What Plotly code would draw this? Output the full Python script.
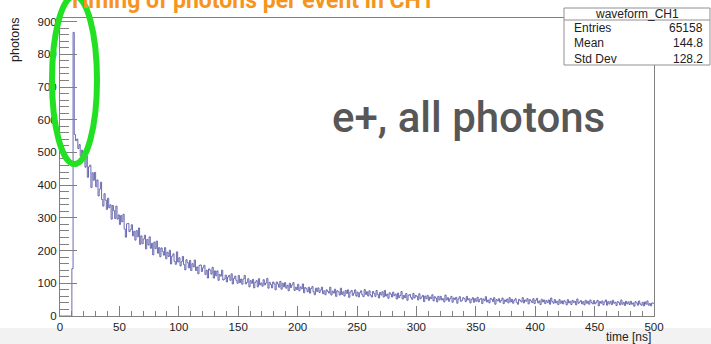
import numpy as np
import plotly.graph_objects as go

# ---------------- data ----------------
bin_width_ns = 1.0
counts = [
    0, 0, 0, 0, 0, 0, 0, 0, 0, 0,
    145, 867, 555, 536, 541, 512, 524, 489, 507, 495,
    486, 455, 489, 424, 456, 461, 393, 438, 415, 439,
    395, 416, 367, 388, 409, 356, 336, 374, 354, 326,
    360, 331, 340, 296, 338, 322, 298, 336, 296, 309,
    280, 307, 288, 311, 266, 241, 282, 283, 258, 264,
    279, 245, 259, 232, 261, 242, 269, 219, 245, 221,
    235, 247, 205, 234, 217, 242, 207, 222, 187, 226,
    206, 229, 192, 209, 181, 208, 197, 186, 209, 175,
    195, 182, 201, 159, 183, 190, 167, 158, 196, 165,
    178, 153, 166, 182, 157, 141, 172, 163, 147, 170,
    139, 160, 150, 171, 139, 150, 129, 155, 156, 136,
    147, 155, 127, 140, 116, 144, 140, 128, 149, 116,
    138, 123, 138, 109, 127, 122, 140, 110, 113, 125,
    104, 119, 124, 109, 129, 98, 115, 122, 109, 100,
    124, 102, 113, 97, 113, 124, 98, 103, 114, 89,
    108, 100, 112, 86, 103, 108, 89, 114, 95, 101,
    91, 111, 95, 101, 115, 85, 103, 96, 86, 104,
    98, 80, 104, 98, 88, 106, 82, 100, 89, 102,
    85, 94, 77, 100, 87, 95, 102, 78, 88, 81,
    97, 77, 89, 83, 98, 71, 87, 83, 74, 88,
    70, 84, 90, 74, 65, 85, 75, 86, 72, 79,
    88, 68, 77, 65, 80, 75, 70, 88, 64, 76,
    70, 82, 60, 77, 74, 64, 85, 66, 74, 61,
    78, 69, 80, 57, 73, 78, 63, 70, 80, 61,
    73, 58, 71, 77, 65, 59, 81, 66, 74, 61,
    77, 64, 58, 75, 69, 60, 78, 66, 55, 72,
    64, 74, 58, 78, 61, 67, 54, 71, 67, 58,
    73, 62, 67, 52, 70, 56, 63, 75, 52, 63,
    56, 69, 48, 63, 66, 57, 51, 69, 55, 63,
    60, 49, 68, 53, 58, 63, 44, 61, 53, 63,
    48, 58, 53, 65, 46, 59, 55, 43, 60, 49,
    60, 49, 53, 43, 64, 49, 56, 45, 53, 60,
    42, 55, 50, 57, 39, 52, 59, 45, 48, 56,
    53, 44, 60, 49, 53, 40, 50, 56, 42, 53,
    45, 57, 43, 51, 54, 38, 52, 47, 59, 43,
    49, 40, 54, 51, 44, 56, 36, 50, 46, 53,
    42, 48, 55, 38, 49, 44, 52, 40, 56, 43,
    51, 39, 48, 53, 42, 36, 51, 47, 43, 56,
    40, 49, 45, 53, 37, 50, 46, 41, 53, 38,
    48, 54, 40, 46, 35, 51, 43, 49, 38, 47,
    41, 49, 36, 55, 44, 39, 50, 40, 45, 35,
    50, 39, 46, 37, 47, 43, 34, 50, 40, 45,
    35, 48, 41, 45, 34, 52, 39, 43, 47, 37,
    44, 34, 48, 39, 45, 36, 49, 41, 37, 47,
    37, 42, 48, 31, 44, 39, 46, 34, 43, 49,
    33, 44, 37, 45, 35, 48, 39, 42, 32, 44,
    41, 34, 49, 36, 42, 32, 45, 37, 43, 35,
    45, 36, 40, 30, 44, 40, 33, 46, 37, 33,
    42, 31, 43, 36, 46, 33, 38, 31, 40, 39,
]
x_tick_vals = [0, 50, 100, 150, 200, 250, 300, 350, 400, 450, 500]
y_tick_vals = [0, 100, 200, 300, 400, 500, 600, 700, 800, 900]
stats_name = "waveform_CH1"
stats_labels = ["Entries", "Mean", "Std Dev"]
stats_values = ["65158", "144.8", "128.2"]
title_text = "Timing of photons per event in CH1"
label_text = "e+, all photons"
x_title = "time [ns]"
y_title = "photons"

# ---------------- geometry ----------------
W, H = 711, 344
L, R, T, B = 60, 654, 18, 316
PW, PH = R - L, B - T

def px(xp):
    return (xp - L) / PW

def py(yp):
    return (B - yp) / PH

edges = np.arange(len(counts) + 1) * bin_width_ns
ys = list(counts) + [counts[-1]]

fig = go.Figure()
fig.add_trace(go.Scatter(
    x=edges, y=ys, mode="lines",
    line=dict(shape="hv", color="#5a5aa8", width=0.9),
    hoverinfo="skip", showlegend=False,
))

axis_font = dict(family="Liberation Sans, Arial, sans-serif", size=11.5, color="#222222")
fig.update_xaxes(
    range=[0, 500], tickvals=x_tick_vals, ticks="inside", ticklen=10,
    tickcolor="#808080", showline=True, linecolor="#808080", linewidth=1,
    mirror=True, showgrid=False, zeroline=False, tickfont=axis_font,
    minor=dict(ticks="inside", ticklen=5, dtick=10, tickcolor="#808080", showgrid=False),
)
fig.update_yaxes(
    range=[0, 911], tickvals=y_tick_vals, ticks="inside", ticklen=17,
    tickcolor="#808080", showline=True, linecolor="#808080", linewidth=1,
    mirror=True, showgrid=False, zeroline=False, tickfont=axis_font,
    minor=dict(ticks="inside", ticklen=9, dtick=20, tickcolor="#808080", showgrid=False),
)

shapes = [
    # light gray band at the bottom of the picture
    dict(type="rect", xref="paper", yref="paper", x0=px(0), x1=px(W), y0=py(H), y1=py(328),
         fillcolor="#f2f2f2", line=dict(width=0), layer="below"),
    # green ellipse
    dict(type="circle", xref="paper", yref="paper", x0=px(52), x1=px(97), y0=py(164), y1=py(-4),
         line=dict(color="#22e022", width=6), fillcolor="rgba(0,0,0,0)"),
    # stats box
    dict(type="rect", xref="paper", yref="paper", x0=px(564), x1=px(710), y0=py(65), y1=py(8),
         line=dict(color="#909090", width=1), fillcolor="white"),
    dict(type="line", xref="paper", yref="paper", x0=px(564), x1=px(710), y0=py(20), y1=py(20),
         line=dict(color="#909090", width=1)),
]

stat_font = dict(family="Liberation Sans, Arial, sans-serif", size=12, color="#222222")
annotations = [
    dict(text=title_text, xref="paper", yref="paper", x=px(66), y=py(0.5), xanchor="left",
         yanchor="middle", showarrow=False,
         font=dict(family="Roboto, sans-serif", size=23, color="#f7941d", weight="bold")),
    dict(text=label_text, xref="paper", yref="paper", x=px(468.5), y=py(117), xanchor="center",
         yanchor="middle", showarrow=False,
         font=dict(family="Roboto, sans-serif", size=42, color="#575757", weight=500)),
    dict(text=stats_name, xref="paper", yref="paper", x=px(637), y=py(14), xanchor="center",
         yanchor="middle", showarrow=False, font=stat_font),
    dict(text=x_title, xref="paper", yref="paper", x=px(653), y=py(337), xanchor="right",
         yanchor="middle", showarrow=False,
         font=dict(family="Liberation Sans, Arial, sans-serif", size=12, color="#222222")),
    dict(text=y_title, xref="paper", yref="paper", x=px(15), y=py(40), xanchor="center",
         yanchor="middle", showarrow=False, textangle=-90,
         font=dict(family="Liberation Sans, Arial, sans-serif", size=12.5, color="#222222")),
]
row_y = [28, 43.5, 59]
for lab, val, yy in zip(stats_labels, stats_values, row_y):
    annotations.append(dict(text=lab, xref="paper", yref="paper", x=px(572), y=py(yy),
                            xanchor="left", yanchor="middle", showarrow=False, font=stat_font))
    annotations.append(dict(text=val, xref="paper", yref="paper", x=px(705), y=py(yy),
                            xanchor="right", yanchor="middle", showarrow=False, font=stat_font))

fig.update_layout(
    width=W, height=H,
    margin=dict(l=L, r=W - R, t=T, b=H - B, pad=0),
    paper_bgcolor="white", plot_bgcolor="white",
    shapes=shapes, annotations=annotations, showlegend=False,
)

fig.write_html("out.html")
